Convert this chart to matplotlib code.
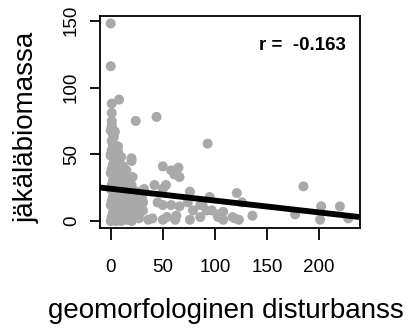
import matplotlib
matplotlib.use("Agg")
import matplotlib.pyplot as plt
import numpy as np

# ---- data ----
x_upper = [0, 0, 8, 1, 1, 1, 1, 2, 1, 2, 4, 7, 24, 44, 93, 0, 9, 20]
y_upper = [148, 116, 91, 88, 81, 75, 70, 65, 60, 55, 67, 56, 75, 78, 58, 49, 48, 47]

x_mid = [10, 15, 20, 50, 58, 65, 66, 61, 42, 53, 50, 76, 15, 21]
y_mid = [48, 38, 45, 41, 38, 40, 33, 35, 27, 27, 24, 22, 28, 33]

x_low = [31, 45, 50, 58, 66, 74, 79, 86, 63, 54, 40, 76, 86, 92, 31, 26, 36, 50, 62]
y_low = [14, 14, 12, 12, 11, 14, 8, 12, 4, 3, 2, 1, 3, 8, 8, 3, 1, 1, 1]

x_right = [95, 121, 126, 185, 202, 220, 228, 201, 177, 97, 103, 108, 117, 123, 136, 88, 119, 103, 108]
y_right = [18, 21, 14, 26, 11, 11, 2, 1, 5, 8, 3, 7, 3, 1, 4, 13, 2, 5, 1]

# dense cluster near x = 0..30
x_dense = ([0, 1, 2, 3] * 6)[:22] + ([5, 6, 7, 8] * 4)[:15] + ([10, 11, 12, 13] * 3)[:11] \
    + [15, 16, 17, 18, 19, 15, 16, 17] + [20, 21, 22, 23, 24, 25, 20] + [27, 28, 29, 30, 32]
y_dense = [0, 3, 6, 9, 12, 15, 18, 21, 24, 27, 30, 33, 36, 39, 42, 45, 50, 53, 58, 63, 68, 72] \
    + [0, 3, 6, 9, 12, 15, 18, 22, 26, 30, 34, 38, 42, 46, 52] \
    + [0, 3, 6, 10, 14, 18, 22, 26, 30, 35, 41] \
    + [1, 4, 8, 12, 16, 20, 24, 31] \
    + [0, 4, 8, 12, 17, 22, 27] \
    + [2, 6, 11, 18, 24]

fit_intercept = 24.2
fit_slope = -0.0887
r_value = -0.163

xs = np.array(x_upper + x_mid + x_low + x_right + x_dense, dtype=float)
ys = np.array(y_upper + y_mid + y_low + y_right + y_dense, dtype=float)

plt.rcParams['font.family'] = ['Liberation Sans', 'DejaVu Sans']

fig = plt.figure(figsize=(4.10, 3.31), dpi=100)
ax = fig.add_axes([100/410, 1-228/331, 260/410, 212/331])

ax.scatter(xs, ys, s=52, color='#A9A9A9', edgecolors='none', zorder=2)

xlim = (-10.3, 239.3)
ax.set_xlim(*xlim)
ax.set_ylim(-5.2, 153.6)
xl = np.array(xlim)
ax.plot(xl, fit_intercept + fit_slope * xl, color='black', lw=4.2, zorder=3,
        solid_capstyle='butt')

for sp in ax.spines.values():
    sp.set_linewidth(1.3)
    sp.set_color('black')

ax.set_xticks([0, 50, 100, 150, 200])
ax.set_yticks([0, 50, 100, 150])
ax.set_yticklabels(['0', '50', '100', '150'], rotation=90, va='center')
ax.tick_params(axis='x', length=8.5, width=1.3, pad=14, labelsize=13.5)
ax.tick_params(axis='y', length=7.5, width=1.3, pad=7, labelsize=13.5)

ax.text(0.946, 0.863, 'r =  %.3f' % r_value, transform=ax.transAxes,
        ha='right', va='center', fontsize=13.5, fontweight='bold')

fig.text(226/410, 1-318/331, 'geomorfologinen disturbanss', ha='center',
         va='baseline', fontsize=20)
fig.text(27/410, 1-127/331, 'jäkäläbiomassa', ha='center', va='center',
         rotation=90, fontsize=20)

fig.savefig('out.png', dpi=100)
